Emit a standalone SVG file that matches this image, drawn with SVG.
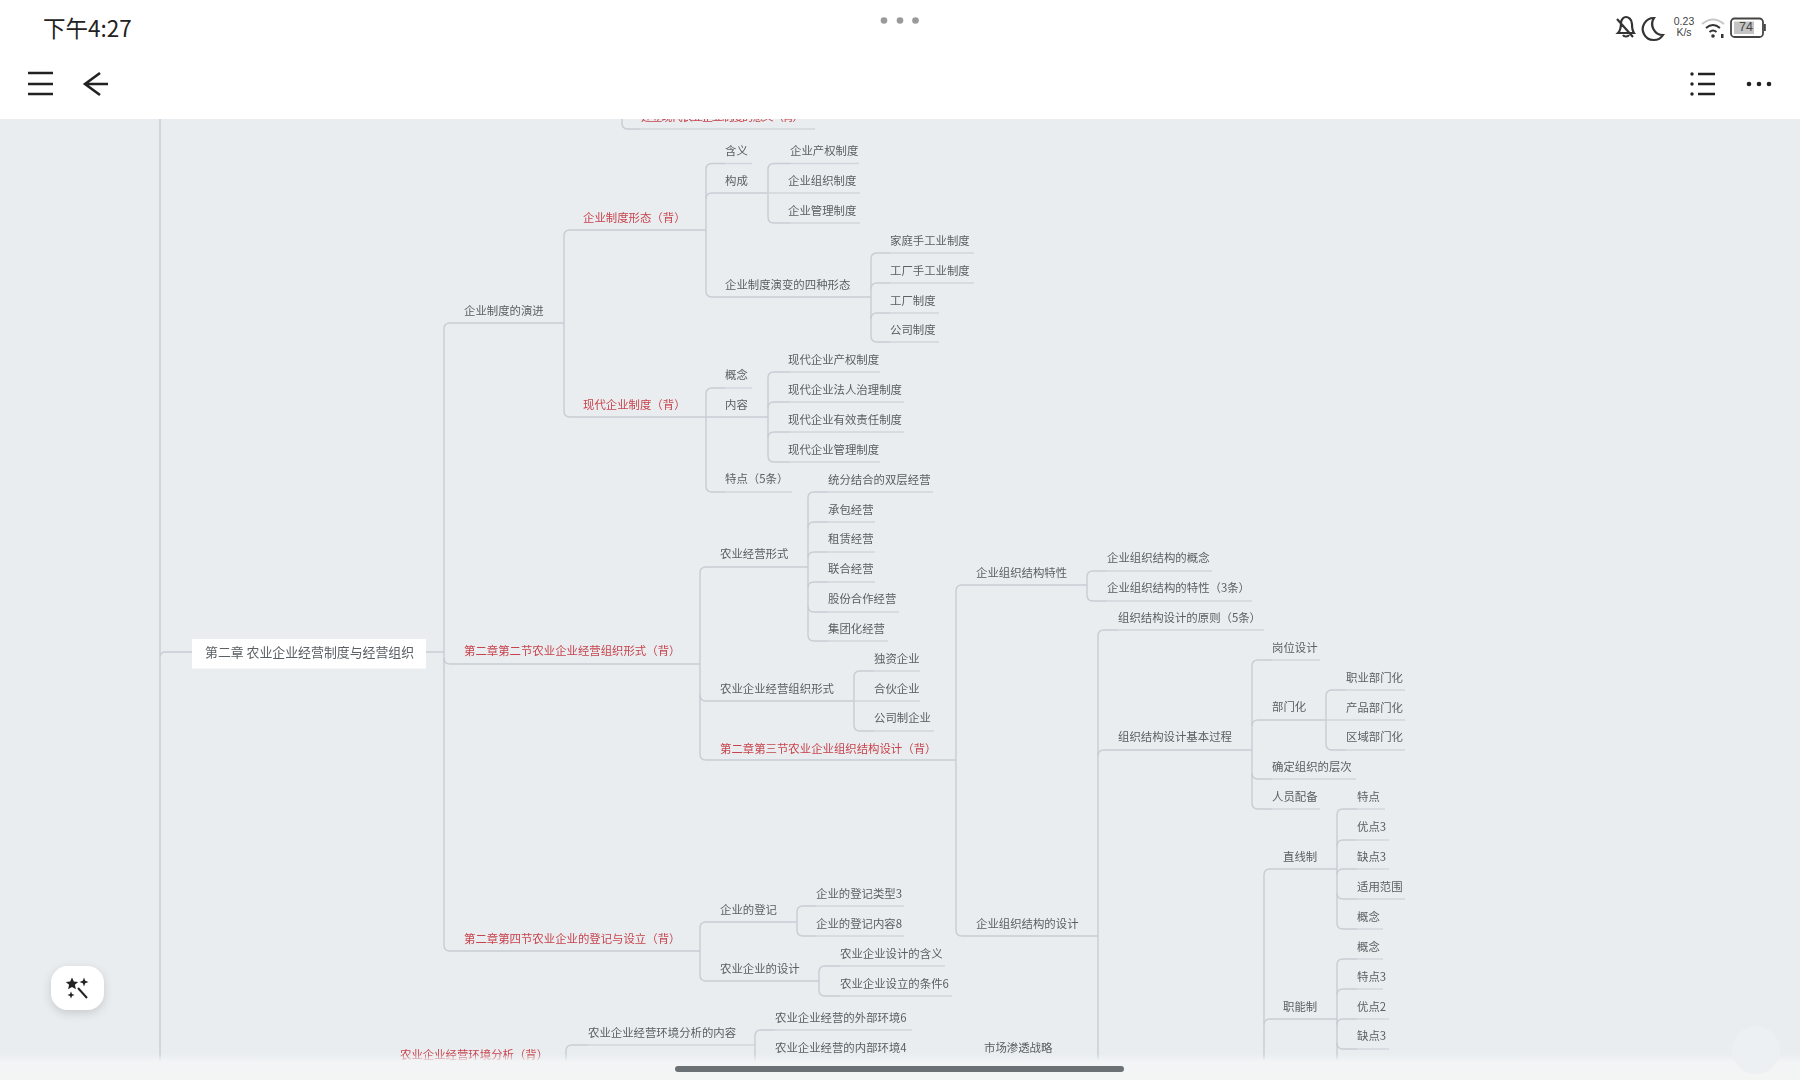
<svg xmlns="http://www.w3.org/2000/svg" width="1800" height="1080" viewBox="0 0 1800 1080">
<defs>
<style>
text{font-family:"Noto Sans CJK SC","Liberation Sans",sans-serif;font-size:11.4px;fill:#5a6064;dominant-baseline:central;transform:translateY(-.8px)}
.t text{filter:url(#soft)}
.r{fill:#c8434c}
.u{fill:none;stroke:#d0d6db;stroke-width:1.4}
.c{fill:none;stroke:#c6cdd3;stroke-width:1.4}
.ui{fill:none;stroke:#222;stroke-width:2.6}
</style>
<filter id="sh" x="-50%" y="-50%" width="200%" height="200%"><feDropShadow dx="0" dy="3" stdDeviation="5" flood-color="#000" flood-opacity=".15"/></filter>
<filter id="soft" x="-5%" y="-30%" width="110%" height="160%"><feGaussianBlur stdDeviation=".35"/></filter>
<linearGradient id="fade" x1="0" y1="0" x2="0" y2="1"><stop offset="0" stop-color="#f2f4f5" stop-opacity="0"/><stop offset=".3" stop-color="#f2f4f5"/><stop offset="1" stop-color="#f3f5f5"/></linearGradient>
</defs>
<rect id="bg" width="1800" height="1080" fill="#e9edf0"/>
<g id="connectors">
<path class="c" d="M160 112V1065"/>
<path class="c" d="M160 657Q160 652 166 652H192"/>
<path class="c" d="M426 652H444"/>
<path class="c" d="M564 323H450Q444 323 444 329V945Q444 951 450 951H464"/>
<path class="c" d="M444 658Q444 664 450 664H700"/>
<path class="c" d="M622 112V123Q622 129 628 129H640"/>
<path class="c" d="M706 230H570Q564 230 564 236V411Q564 417 570 417H768"/>
<path class="c" d="M725 163.500H712Q706 163.500 706 169.500V291Q706 297 712 297H871"/>
<path class="c" d="M706 199Q706 193 712 193H768"/>
<path class="c" d="M790 163.500H774Q768 163.500 768 169.500V217Q768 223 774 223H790"/>
<path class="c" d="M890 253H877Q871 253 871 259V336Q871 342 877 342H890"/>
<path class="c" d="M871 289Q871 283 877 283H890"/>
<path class="c" d="M871 319Q871 313 877 313H890"/>
<path class="c" d="M725 388H712Q706 388 706 394V486Q706 492 712 492H725"/>
<path class="c" d="M790 372H774Q768 372 768 378V456Q768 462 774 462H790"/>
<path class="c" d="M768 408Q768 402 774 402H790"/>
<path class="c" d="M768 438Q768 432 774 432H790"/>
<path class="c" d="M808 567H706Q700 567 700 573V754Q700 760 706 760H956"/>
<path class="c" d="M700 695Q700 701 706 701H854"/>
<path class="c" d="M828 492H814Q808 492 808 498V635Q808 641 814 641H828"/>
<path class="c" d="M808 528Q808 522 814 522H828"/>
<path class="c" d="M808 558Q808 552 814 552H828"/>
<path class="c" d="M808 588Q808 582 814 582H828"/>
<path class="c" d="M808 606Q808 612 814 612H828"/>
<path class="c" d="M874 671H860Q854 671 854 677V725Q854 731 860 731H874"/>
<path class="c" d="M1087 585H962Q956 585 956 591V930Q956 936 962 936H1098"/>
<path class="c" d="M1107 571H1093Q1087 571 1087 577V595Q1087 601 1093 601H1107"/>
<path class="c" d="M1118 630H1104Q1098 630 1098 636V1060"/>
<path class="c" d="M1098 756Q1098 750 1104 750H1252"/>
<path class="c" d="M1272 660H1258Q1252 660 1252 666V803Q1252 809 1258 809H1272"/>
<path class="c" d="M1252 726Q1252 720 1258 720H1326"/>
<path class="c" d="M1252 773Q1252 779 1258 779H1272"/>
<path class="c" d="M1346 690H1332Q1326 690 1326 696V744Q1326 750 1332 750H1346"/>
<path class="c" d="M1357 809H1343Q1337 809 1337 815V923Q1337 929 1343 929H1357"/>
<path class="c" d="M1337 846Q1337 840 1343 840H1357"/>
<path class="c" d="M1337 875Q1337 869 1343 869H1357"/>
<path class="c" d="M1337 893Q1337 899 1343 899H1357"/>
<path class="c" d="M1337 869H1270Q1264 869 1264 875V1060"/>
<path class="c" d="M1264 1025Q1264 1019 1270 1019H1337"/>
<path class="c" d="M1357 959H1343Q1337 959 1337 965V1060"/>
<path class="c" d="M1337 995Q1337 989 1343 989H1357"/>
<path class="c" d="M1337 1025Q1337 1019 1343 1019H1357"/>
<path class="c" d="M1337 1043Q1337 1049 1343 1049H1357"/>
<path class="c" d="M797 922H706Q700 922 700 928V975Q700 981 706 981H819"/>
<path class="c" d="M700 951H464"/>
<path class="c" d="M816 906H803Q797 906 797 912V930Q797 936 803 936H816"/>
<path class="c" d="M840 966H825Q819 966 819 972V990Q819 996 825 996H840"/>
<path class="c" d="M588 1045H572Q566 1045 566 1051V1065"/>
<path class="c" d="M775 1030H761Q755 1030 755 1036V1065"/>
</g>
<g class="t">
<g id="n-root"><rect x="192" y="639" width="234" height="29.500" fill="#fff"/><text x="205" y="652" style="font-size:12.900px">第二章 农业企业经营制度与经营组织</text></g>
<g id="n-top"><text class="r" x="641" y="117" textLength="163">建立现代农业企业制度的意义（背）</text><path class="u" d="M640 129H815"/></g>
<g id="n1"><text x="725" y="151">含义</text><path class="u" d="M725 163.500H752"/></g>
<g id="n2"><text x="725" y="181">构成</text><path class="u" d="M712 193H768"/></g>
<g id="n3"><text x="790" y="151">企业产权制度</text><path class="u" d="M790 163.500H859"/></g>
<g id="n4"><text x="788" y="181">企业组织制度</text><path class="u" d="M768 193H860"/></g>
<g id="n5"><text x="788" y="211">企业管理制度</text><path class="u" d="M790 223H860"/></g>
<g id="n6"><text class="r" x="583" y="218">企业制度形态（背）</text></g>
<g id="n7"><text x="725" y="285">企业制度演变的四种形态</text></g>
<g id="n8"><text x="890" y="240.500">家庭手工业制度</text><path class="u" d="M890 253H974"/></g>
<g id="n9"><text x="890" y="270.500">工厂手工业制度</text><path class="u" d="M890 283H974"/></g>
<g id="n10"><text x="890" y="300.500">工厂制度</text><path class="u" d="M890 313H939"/></g>
<g id="n11"><text x="890" y="330">公司制度</text><path class="u" d="M890 342H939"/></g>
<g id="n12"><text x="464" y="311">企业制度的演进</text></g>
<g id="n13"><text class="r" x="583" y="405">现代企业制度（背）</text></g>
<g id="n14"><text x="725" y="375">概念</text><path class="u" d="M725 388H752"/></g>
<g id="n15"><text x="725" y="405">内容</text></g>
<g id="n16"><text x="725" y="479">特点（5条）</text><path class="u" d="M725 492H792"/></g>
<g id="n17"><text x="788" y="360">现代企业产权制度</text><path class="u" d="M790 372H880"/></g>
<g id="n18"><text x="788" y="390">现代企业法人治理制度</text><path class="u" d="M790 402H904"/></g>
<g id="n19"><text x="788" y="420">现代企业有效责任制度</text><path class="u" d="M790 432H904"/></g>
<g id="n20"><text x="788" y="450">现代企业管理制度</text><path class="u" d="M790 462H880"/></g>
<g id="n21"><text x="828" y="480">统分结合的双层经营</text><path class="u" d="M828 492H933"/></g>
<g id="n22"><text x="828" y="510">承包经营</text><path class="u" d="M828 522H875"/></g>
<g id="n23"><text x="828" y="539">租赁经营</text><path class="u" d="M828 552H875"/></g>
<g id="n24"><text x="828" y="569">联合经营</text><path class="u" d="M828 582H875"/></g>
<g id="n25"><text x="828" y="599">股份合作经营</text><path class="u" d="M828 612H899"/></g>
<g id="n26"><text x="828" y="629">集团化经营</text><path class="u" d="M828 641H888"/></g>
<g id="n27"><text x="720" y="554">农业经营形式</text></g>
<g id="n28"><text class="r" x="464" y="651">第二章第二节农业企业经营组织形式（背）</text></g>
<g id="n29"><text x="720" y="689">农业企业经营组织形式</text></g>
<g id="n30"><text x="874" y="659">独资企业</text><path class="u" d="M874 671H920"/></g>
<g id="n31"><text x="874" y="689">合伙企业</text><path class="u" d="M854 701H920"/></g>
<g id="n32"><text x="874" y="718">公司制企业</text><path class="u" d="M874 731H934"/></g>
<g id="n33"><text class="r" x="720" y="748.500">第二章第三节农业企业组织结构设计（背）</text></g>
<g id="n34"><text x="976" y="573">企业组织结构特性</text></g>
<g id="n35"><text x="1107" y="558">企业组织结构的概念</text><path class="u" d="M1107 571H1212"/></g>
<g id="n36"><text x="1107" y="588">企业组织结构的特性（3条）</text><path class="u" d="M1107 601H1252"/></g>
<g id="n37"><text x="1118" y="618">组织结构设计的原则（5条）</text><path class="u" d="M1118 630H1264"/></g>
<g id="n38"><text x="1118" y="737">组织结构设计基本过程</text></g>
<g id="n39"><text x="1272" y="648">岗位设计</text><path class="u" d="M1272 660H1320"/></g>
<g id="n40"><text x="1272" y="707">部门化</text></g>
<g id="n41"><text x="1272" y="767">确定组织的层次</text><path class="u" d="M1272 779H1356"/></g>
<g id="n42"><text x="1272" y="797">人员配备</text><path class="u" d="M1272 809H1320"/></g>
<g id="n43"><text x="1346" y="678">职业部门化</text><path class="u" d="M1346 690H1405"/></g>
<g id="n44"><text x="1346" y="707.500">产品部门化</text><path class="u" d="M1326 720H1405"/></g>
<g id="n45"><text x="1346" y="737">区域部门化</text><path class="u" d="M1346 750H1405"/></g>
<g id="n46"><text x="1357" y="797">特点</text><path class="u" d="M1357 809H1385"/></g>
<g id="n47"><text x="1357" y="827">优点3</text><path class="u" d="M1357 840H1389"/></g>
<g id="n48"><text x="1357" y="857">缺点3</text><path class="u" d="M1357 869H1389"/></g>
<g id="n49"><text x="1357" y="887">适用范围</text><path class="u" d="M1357 899H1405"/></g>
<g id="n50"><text x="1357" y="917">概念</text><path class="u" d="M1357 929H1383"/></g>
<g id="n51"><text x="1283" y="857">直线制</text></g>
<g id="n52"><text x="1283" y="1007">职能制</text></g>
<g id="n53"><text x="1357" y="947">概念</text><path class="u" d="M1357 959H1383"/></g>
<g id="n54"><text x="1357" y="977">特点3</text><path class="u" d="M1357 989H1383"/></g>
<g id="n55"><text x="1357" y="1007">优点2</text><path class="u" d="M1357 1019H1389"/></g>
<g id="n56"><text x="1357" y="1036">缺点3</text><path class="u" d="M1357 1049H1389"/></g>
<g id="n57"><text x="976" y="924">企业组织结构的设计</text></g>
<g id="n58"><text x="984" y="1048">市场渗透战略</text></g>
<g id="n59"><text class="r" x="464" y="939">第二章第四节农业企业的登记与设立（背）</text></g>
<g id="n60"><text x="720" y="910">企业的登记</text></g>
<g id="n61"><text x="720" y="969">农业企业的设计</text></g>
<g id="n62"><text x="816" y="894">企业的登记类型3</text><path class="u" d="M816 906H904"/></g>
<g id="n63"><text x="816" y="924">企业的登记内容8</text><path class="u" d="M816 936H904"/></g>
<g id="n64"><text x="840" y="954">农业企业设计的含义</text><path class="u" d="M840 966H945"/></g>
<g id="n65"><text x="840" y="984">农业企业设立的条件6</text><path class="u" d="M840 996H952"/></g>
<g id="n66"><text class="r" x="400" y="1055">农业企业经营环境分析（背）</text></g>
<g id="n67"><text x="588" y="1033">农业企业经营环境分析的内容</text><path class="u" d="M588 1045H754"/></g>
<g id="n68"><text x="775" y="1018">农业企业经营的外部环境6</text><path class="u" d="M775 1030H912"/></g>
<g id="n69"><text x="775" y="1048">农业企业经营的内部环境4</text></g>
</g>
<rect x="0" y="1054" width="1800" height="26" fill="url(#fade)"/>
<rect x="675" y="1066" width="449" height="6" rx="3" fill="#6b7174"/>
<circle cx="1756" cy="1050" r="24" fill="#ecf0f2"/>
<g id="magic"><rect x="51" y="966" width="53" height="44" rx="17" fill="#fff" filter="url(#sh)"/>
<path d="M72 977.500l1.800 4 4.400.4-3.300 2.900 1 4.400-3.900-2.300-3.900 2.300 1-4.400-3.300-2.900 4.400-.4z" fill="#222"/>
<path d="M84 977.500l1.200 3.300 3.300 1.200-3.300 1.200-1.200 3.300-1.200-3.300-3.300-1.200 3.300-1.200zM71 991.500l1 2.500 2.500 1-2.500 1-1 2.500-1-2.500-2.500-1 2.500-1z" fill="#222"/>
<path d="M78 988l9 10" stroke="#222" stroke-width="2" fill="none"/></g>
<g id="header"><rect width="1800" height="119" fill="#fff"/>
<text x="43" y="28" style="font-size:22.500px;fill:#222">下午4:27</text>
<g fill="#9a9a9a"><circle cx="884" cy="20.500" r="3.300"/><circle cx="900" cy="20.500" r="3.300"/><circle cx="915.500" cy="20.500" r="3.300"/></g>
<path class="ui" d="M28 73H53M28 84H53M28 94H53"/>
<path class="ui" d="M108 84H85M100 73L85 84L100 95"/>
<g fill="none" stroke="#333" stroke-width="2.200"><path d="M1618 33c3-3 3-6 3-10c0-4 3-6 5-6s6 2 6 7c0 4 0 6 2 9zM1623 35c1 2 5 2 6 0M1617 19L1633 37"/><path d="M1654 18a11 11 0 1 0 9 17a11 11 0 0 1 -9 -17z"/></g>
<text x="1684" y="21.500" text-anchor="middle" style="font-family:'Liberation Sans',sans-serif;font-size:10.500px;fill:#444">0.23</text>
<text x="1684" y="33" text-anchor="middle" style="font-family:'Liberation Sans',sans-serif;font-size:10.500px;fill:#444">K/s</text>
<g fill="none" stroke-width="2"><path d="M1702 24q11-9 22 0" stroke="#c8c8c8"/><path d="M1706 28q7-6 14 0M1709.500 32q3.500-3 7 0" stroke="#333"/></g><circle cx="1713" cy="36" r="1.800" fill="#333"/><rect x="1721" y="34" width="2.500" height="4" fill="#333"/>
<rect x="1731" y="18.500" width="32" height="18.500" rx="3.500" fill="#fff" stroke="#444" stroke-width="1.800"/><rect x="1734" y="21.500" width="20" height="12.500" fill="#c4c4c4"/><rect x="1764" y="24" width="1.800" height="7" fill="#444"/>
<text x="1746" y="28" text-anchor="middle" style="font-family:'Liberation Sans',sans-serif;font-size:12.500px;fill:#444">74</text>
<g fill="#222"><circle cx="1692" cy="74" r="1.700"/><circle cx="1692" cy="84" r="1.700"/><circle cx="1692" cy="94" r="1.700"/><circle cx="1749" cy="84" r="2.300"/><circle cx="1759" cy="84" r="2.300"/><circle cx="1769" cy="84" r="2.300"/></g>
<path class="ui" d="M1698 74H1715M1698 84H1715M1698 94H1715"/>
</g>
</svg>
